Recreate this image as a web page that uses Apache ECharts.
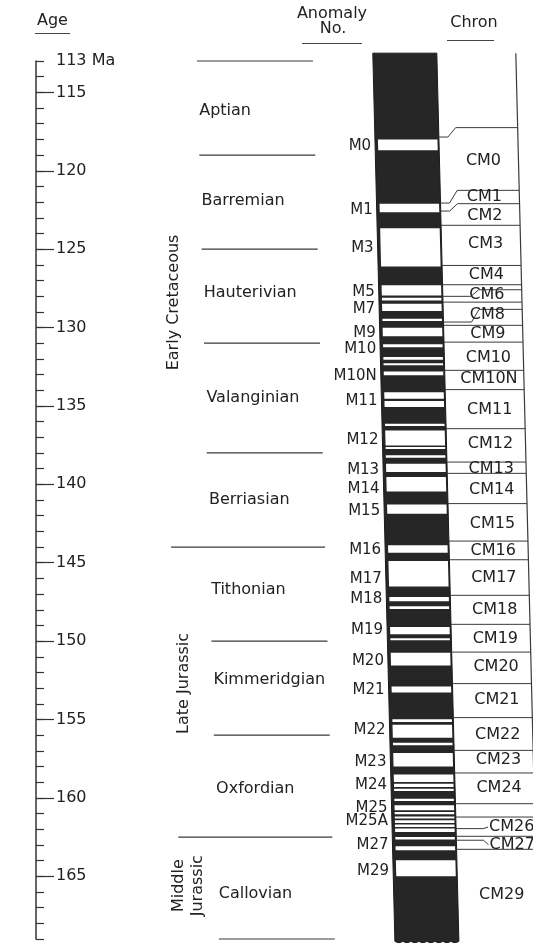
<!DOCTYPE html>
<html>
<head>
<meta charset="utf-8">
<script src="https://cdn.jsdelivr.net/npm/echarts@6/dist/echarts.min.js"></script>
<style>
html, body { margin: 0; padding: 0; background: #fff; }
#chart { width: 533px; height: 947px; }
</style>
</head>
<body>
<div id="chart"></div>
<script>
// ---- data (ages in Ma) ----
var ageTicks = [115, 120, 125, 130, 135, 140, 145, 150, 155, 160, 165];
var ageLabels = [113, 115, 120, 125, 130, 135, 140, 145, 150, 155, 160, 165];

var stageNames = ['Aptian', 'Barremian', 'Hauterivian', 'Valanginian', 'Berriasian', 'Tithonian', 'Kimmeridgian', 'Oxfordian', 'Callovian'];
var stageLabelAge = [116.2, 121.9, 127.8, 134.5, 141.0, 146.7, 152.5, 159.4, 166.1];
var stageBounds = [113, 119, 125, 131, 138, 144, 150, 156, 162.5, 169];
var epochBounds = [144, 162.5];
var epochNames = ['Early Cretaceous', 'Late Jurassic', 'Middle\nJurassic'];
var epochLabelAge = [128.4, 152.7, 165.6];

var anomalyNames = ['M0', 'M1', 'M3', 'M5', 'M7', 'M9', 'M10', 'M10N', 'M11', 'M12', 'M13', 'M14', 'M15', 'M16', 'M17', 'M18', 'M19', 'M20', 'M21', 'M22', 'M23', 'M24', 'M25', 'M25A', 'M27', 'M29'];
var anomalyAge = [118.45, 122.53, 124.91, 127.74, 128.80, 130.35, 131.39, 133.11, 134.71, 137.20, 139.07, 140.28, 141.70, 144.17, 146.02, 147.34, 149.27, 151.27, 153.10, 155.69, 157.71, 159.20, 160.62, 161.48, 162.98, 164.67];

// whole polarity column, then the reversed (white) intervals [top, bottom]
var columnSpan = [112.5, 169.15];
var reversedBands = [
    [118.00, 118.70], [122.10, 122.64], [123.66, 126.10],
    [127.31, 127.95], [128.10, 128.27], [128.48, 128.95], [129.44, 129.59],
    [130.01, 130.56], [131.07, 131.25], [131.88, 132.05], [132.27, 132.41],
    [132.80, 133.05], [134.12, 134.54], [134.69, 135.07], [136.13, 136.28],
    [136.56, 137.52], [137.62, 137.75], [138.15, 138.30], [138.68, 139.22],
    [139.54, 140.45], [141.28, 141.87], [143.89, 144.36], [144.89, 146.51],
    [147.19, 147.45], [147.78, 147.96], [149.10, 149.57], [149.81, 149.95],
    [150.74, 151.55], [152.89, 153.27], [154.99, 155.16], [155.33, 156.16],
    [156.48, 156.65], [157.14, 157.99], [158.50, 158.99], [159.09, 159.31],
    [159.41, 159.56], [160.05, 160.20], [160.47, 160.79], [160.90, 161.05],
    [161.18, 161.32], [161.43, 161.60], [161.69, 161.86], [161.96, 162.18],
    [162.50, 162.66], [163.09, 163.34], [163.98, 165.00]
];

var chronNames = ['CM0', 'CM1', 'CM2', 'CM3', 'CM4', 'CM6', 'CM8', 'CM9', 'CM10', 'CM10N', 'CM11', 'CM12', 'CM13', 'CM14', 'CM15', 'CM16', 'CM17', 'CM18', 'CM19', 'CM20', 'CM21', 'CM22', 'CM23', 'CM24', 'CM26', 'CM27', 'CM29'];
var chronLabelAge = [119.34, 121.68, 122.85, 124.65, 126.67, 127.89, 129.22, 130.39, 131.92, 133.26, 135.28, 137.45, 139.00, 140.34, 142.51, 144.26, 145.95, 147.99, 149.84, 151.65, 153.73, 156.01, 157.60, 159.35, 161.86, 162.98, 166.21];
// chron boundaries: [age on chron side, age where it meets the anomaly column]
var chronBounds = [
    [117.25, 117.85], [121.25, 122.06], [122.10, 122.57], [123.48, 123.48],
    [126.04, 126.04], [127.27, 127.27], [127.59, 128.01], [128.38, 128.38],
    [128.84, 129.65], [129.86, 129.86], [130.93, 130.93], [132.73, 132.73],
    [133.96, 133.96], [136.45, 136.45], [138.58, 138.58], [139.30, 139.30],
    [141.23, 141.23], [143.62, 143.62], [144.81, 144.81], [147.08, 147.08],
    [148.93, 148.93], [150.70, 150.70], [152.71, 152.71], [154.88, 154.88],
    [156.97, 156.97], [158.41, 158.41], [160.37, 160.37], [161.22, 161.22],
    [162.45, 162.45], [163.28, 163.28]
];
// small chrons labelled off a leader line: name -> age where the leader leaves the column
var chronLeaders = { 'CM26': 161.96, 'CM27': 162.70 };

// ---- drawing ----
var INK = '#222';
var FONT = 'DejaVu Sans';
var SHEAR = 0.39; // the scanned page leans right, ~0.39 px per Ma
var COL_L = 373, COL_R = 437, CHRON_R = 516;

var chart = echarts.init(document.getElementById('chart'));

function pt(api, x, age) {
    var p = api.coord([x, age]);
    return [p[0] + (age - 113) * SHEAR, p[1]];
}
function rows(arr) {
    return arr.map(function (v) { return [36, v]; });
}
function txt(p, text, align, size) {
    return {
        type: 'text', x: p[0], y: p[1],
        style: {
            text: text, fill: INK, fontSize: size || 16, fontFamily: FONT,
            align: align, verticalAlign: 'middle', textAlign: align, textVerticalAlign: 'middle'
        }
    };
}
function seg(a, b, w) {
    return { type: 'line', shape: { x1: a[0], y1: a[1], x2: b[0], y2: b[1] }, style: { stroke: '#3a3a3a', lineWidth: w || 1 } };
}

var option = {
    animation: false,
    backgroundColor: '#fff',
    grid: { left: 36, right: 0, top: 61, bottom: 8 },
    xAxis: { type: 'value', min: 36, max: 533, show: false },
    yAxis: [{
        type: 'value', position: 'left', inverse: true, min: 113, max: 169, interval: 1,
        axisLine: { show: true, lineStyle: { color: '#333', width: 1.5 } },
        axisTick: { show: true, inside: true, length: 8, lineStyle: { color: '#333', width: 1.2 } },
        axisLabel: { show: false },
        splitLine: { show: false }
    }, {
        type: 'value', position: 'left', offset: 0, inverse: true, min: 113, max: 169,
        axisLine: { show: false },
        axisTick: { show: true, inside: true, length: 18, customValues: ageTicks, lineStyle: { color: '#333', width: 1.2 } },
        axisLabel: {
            show: true, inside: true, margin: 20, customValues: ageLabels,
            color: INK, fontSize: 16, fontFamily: FONT,
            formatter: function (v) { return v === 113 ? '113 Ma' : String(v); }
        },
        splitLine: { show: false }
    }],
    graphic: [
        { type: 'text', left: 37, top: 13, style: { text: 'Age', fill: INK, fontSize: 16, fontFamily: FONT } },
        { type: 'line', shape: { x1: 35, y1: 33.5, x2: 70, y2: 33.5 }, style: { stroke: '#444', lineWidth: 1.2 } },
        { type: 'text', x: 332, y: 14, style: { text: 'Anomaly', fill: INK, fontSize: 16, fontFamily: FONT, align: 'center', verticalAlign: 'middle' } },
        { type: 'text', x: 333, y: 29, style: { text: 'No.', fill: INK, fontSize: 16, fontFamily: FONT, align: 'center', verticalAlign: 'middle' } },
        { type: 'line', shape: { x1: 302, y1: 43.5, x2: 362, y2: 43.5 }, style: { stroke: '#444', lineWidth: 1.2 } },
        { type: 'text', x: 474, y: 23, style: { text: 'Chron', fill: INK, fontSize: 16, fontFamily: FONT, align: 'center', verticalAlign: 'middle' } },
        { type: 'line', shape: { x1: 447, y1: 40.5, x2: 494, y2: 40.5 }, style: { stroke: '#444', lineWidth: 1.2 } }
    ],
    series: [
        //stage boundaries
        {
            type: 'custom', silent: true, data: rows(stageBounds),
            renderItem: function (params, api) {
                var age = stageBounds[params.dataIndex];
                var x0 = epochBounds.indexOf(age) >= 0 ? 159 : 197;
                return seg(pt(api, x0, age), pt(api, 313, age), 1.2);
            }
        },
        //stage names
        {
            type: 'custom', silent: true, data: rows(stageLabelAge),
            renderItem: function (params, api) {
                var i = params.dataIndex;
                return txt(pt(api, 198, stageLabelAge[i]), stageNames[i], 'left');
            }
        },
        //epochs, written upward
        {
            type: 'custom', silent: true, data: rows(epochLabelAge),
            renderItem: function (params, api) {
                var i = params.dataIndex;
                var el = txt(pt(api, 168, epochLabelAge[i]), epochNames[i], 'center');
                el.rotation = Math.PI / 2;
                el.style.lineHeight = 19;
                return el;
            }
        },
        //polarity column (normal = black), torn off at the bottom
        {
            type: 'custom', silent: true, data: rows([columnSpan[0]]),
            renderItem: function (params, api) {
                var top = columnSpan[0], bot = columnSpan[1];
                var pts = [pt(api, COL_L, top), pt(api, COL_R, top)];
                for (var k = 0; k <= 32; k++) {
                    var p = pt(api, COL_R - k * 2, bot);
                    pts.push([p[0], p[1] + 1.3 * Math.abs(Math.sin(k * Math.PI / 4))]);
                }
                return { type: 'polygon', shape: { points: pts }, style: { fill: '#262626', stroke: '#1a1a1a', lineWidth: 1 } };
            }
        },
        //reversed intervals
        {
            type: 'custom', silent: true, data: rows(reversedBands.map(function (b) { return b[0]; })),
            renderItem: function (params, api) {
                var b = reversedBands[params.dataIndex];
                var l = COL_L + 3, r = COL_R - 1.5;
                return {
                    type: 'polygon',
                    shape: { points: [pt(api, l, b[0]), pt(api, r, b[0]), pt(api, r, b[1]), pt(api, l, b[1])] },
                    style: { fill: '#fff' }
                };
            }
        },
        //anomaly numbers
        {
            type: 'custom', silent: true, data: rows(anomalyAge),
            renderItem: function (params, api) {
                var i = params.dataIndex;
                return txt(pt(api, 369, anomalyAge[i]), anomalyNames[i], 'right', 15);
            }
        },
        //chron column frame and boundaries
        {
            type: 'custom', silent: true, data: rows(chronBounds.map(function (c) { return c[0]; })),
            renderItem: function (params, api) {
                var c = chronBounds[params.dataIndex];
                var items = [];
                if (params.dataIndex === 0) {
                    items.push(seg(pt(api, CHRON_R, columnSpan[0]), pt(api, CHRON_R, 169.2), 1.2));
                }
                if (Math.abs(c[0] - c[1]) < 0.01) {
                    items.push(seg(pt(api, COL_R, c[1]), pt(api, CHRON_R, c[0])));
                } else {
                    var bx = c[0] > 127 ? 465 : 446;
                    items.push({
                        type: 'polyline',
                        shape: { points: [pt(api, COL_R, c[1]), pt(api, bx, c[1]), pt(api, bx + 8, c[0]), pt(api, CHRON_R, c[0])] },
                        style: { stroke: '#3a3a3a', lineWidth: 1, fill: null }
                    });
                }
                return { type: 'group', children: items };
            }
        },
        //chron names
        {
            type: 'custom', silent: true, data: rows(chronLabelAge),
            renderItem: function (params, api) {
                var i = params.dataIndex;
                var name = chronNames[i], age = chronLabelAge[i];
                if (chronLeaders[name] !== undefined) {
                    var from = chronLeaders[name];
                    return {
                        type: 'group', children: [
                            {
                                type: 'polyline',
                                shape: { points: [pt(api, COL_R, from), pt(api, 464, from), pt(api, 469, age)] },
                                style: { stroke: '#3a3a3a', lineWidth: 1, fill: null }
                            },
                            txt(pt(api, 470, age), name, 'left')
                        ]
                    };
                }
                return txt(pt(api, 481, age), name, 'center');
            }
        }
    ]
};
chart.setOption(option);
</script>
</body>
</html>
